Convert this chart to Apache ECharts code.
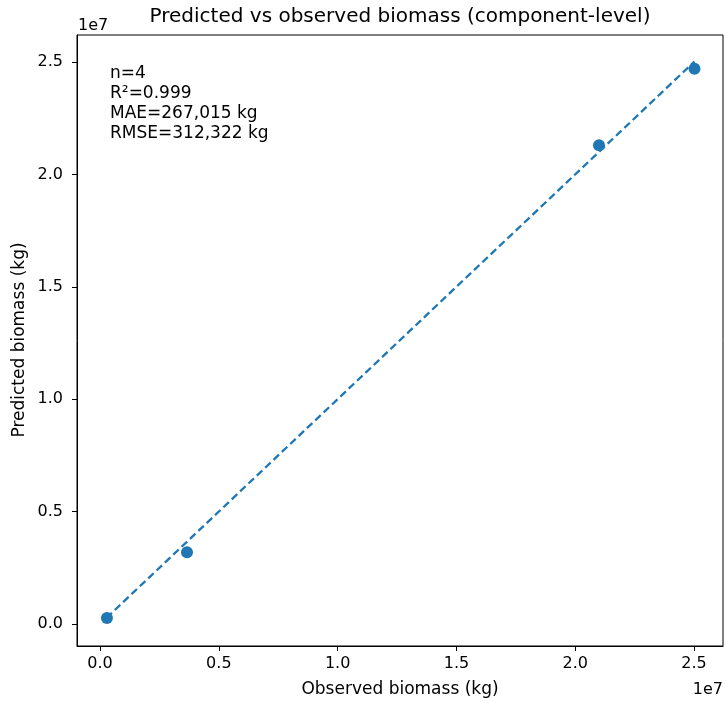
<!DOCTYPE html>
<html>
<head>
<meta charset="utf-8">
<script src="https://cdn.jsdelivr.net/npm/echarts@6/dist/echarts.min.js"></script>
<style>
html,body{margin:0;padding:0;background:#fff;}
#chart{width:726px;height:703px;}
</style>
</head>
<body>
<div id="chart"></div>
<script>
// Data
var observed = [290000, 3660000, 21000000, 25020000];
var predicted = [270000, 3190000, 21300000, 24700000];
var tickValues = [0, 5000000, 10000000, 15000000, 20000000, 25000000];
var statsLines = ["n=4", "R\u00b2=0.999", "MAE=267,015 kg", "RMSE=312,322 kg"];
var titleText = "Predicted vs observed biomass (component-level)";
var xName = "Observed biomass (kg)";
var yName = "Predicted biomass (kg)";

var lo = Math.min(Math.min.apply(null, observed), Math.min.apply(null, predicted));
var hi = Math.max(Math.max.apply(null, observed), Math.max.apply(null, predicted));
var points = observed.map(function (o, i) { return [o, predicted[i]]; });

var FONT = "DejaVu Sans";
var chart = echarts.init(document.getElementById('chart'), null, {renderer: 'canvas'});

function fmt(v) { return (v / 1e7).toFixed(1); }

var axisCommon = {
  type: 'value',
  splitLine: {show: false},
  axisLine: {show: true, onZero: false, lineStyle: {color: '#000', width: 1}},
  axisTick: {show: true, inside: false, length: 5, lineStyle: {color: '#000', width: 1}, customValues: tickValues},
  axisLabel: {show: true, color: '#000', fontFamily: FONT, fontSize: 16, formatter: fmt, customValues: tickValues}
};

var option = {
  animation: false,
  backgroundColor: '#fff',
  grid: {left: 77, right: 3, top: 35, bottom: 57, show: true, borderColor: '#000', borderWidth: 1, backgroundColor: 'transparent'},
  xAxis: Object.assign({}, axisCommon, {
    min: -970000, max: 26220000,
    axisLabel: Object.assign({}, axisCommon.axisLabel, {margin: 10})
  }),
  yAxis: Object.assign({}, axisCommon, {
    min: -980000, max: 26200000,
    axisLabel: Object.assign({}, axisCommon.axisLabel, {margin: 14})
  }),
  series: [
    {
      type: 'line',
      data: [[lo, lo], [hi, hi]],
      symbol: 'none',
      lineStyle: {color: '#1f77b4', width: 2.3, type: [7.5, 4], cap: 'butt'},
      z: 2
    },
    {
      type: 'scatter',
      data: points,
      symbol: 'circle',
      symbolSize: 12,
      itemStyle: {color: '#1f77b4', opacity: 1},
      z: 3
    }
  ],
  graphic: [
    {type: 'text', style: {text: titleText, x: 400, y: 17, align: 'center', verticalAlign: 'middle', font: '20px "DejaVu Sans"', fill: '#000'}},
    {type: 'text', style: {text: xName, x: 400, y: 690, align: 'center', verticalAlign: 'middle', font: '17px "DejaVu Sans"', fill: '#000'}},
    {type: 'text', rotation: Math.PI / 2, x: 20, y: 340, style: {text: yName, x: 0, y: 0, align: 'center', verticalAlign: 'middle', font: '17px "DejaVu Sans"', fill: '#000'}},
    {type: 'text', style: {text: '1e7', x: 78, y: 26, align: 'left', verticalAlign: 'middle', font: '16px "DejaVu Sans"', fill: '#000'}},
    {type: 'text', style: {text: '1e7', x: 723, y: 690, align: 'right', verticalAlign: 'middle', font: '16px "DejaVu Sans"', fill: '#000'}},
    {type: 'text', style: {text: statsLines.join('\n'), x: 110, y: 64, align: 'left', verticalAlign: 'top', font: '17px "DejaVu Sans"', lineHeight: 20, fill: '#000'}}
  ]
};
chart.setOption(option);
</script>
</body>
</html>
